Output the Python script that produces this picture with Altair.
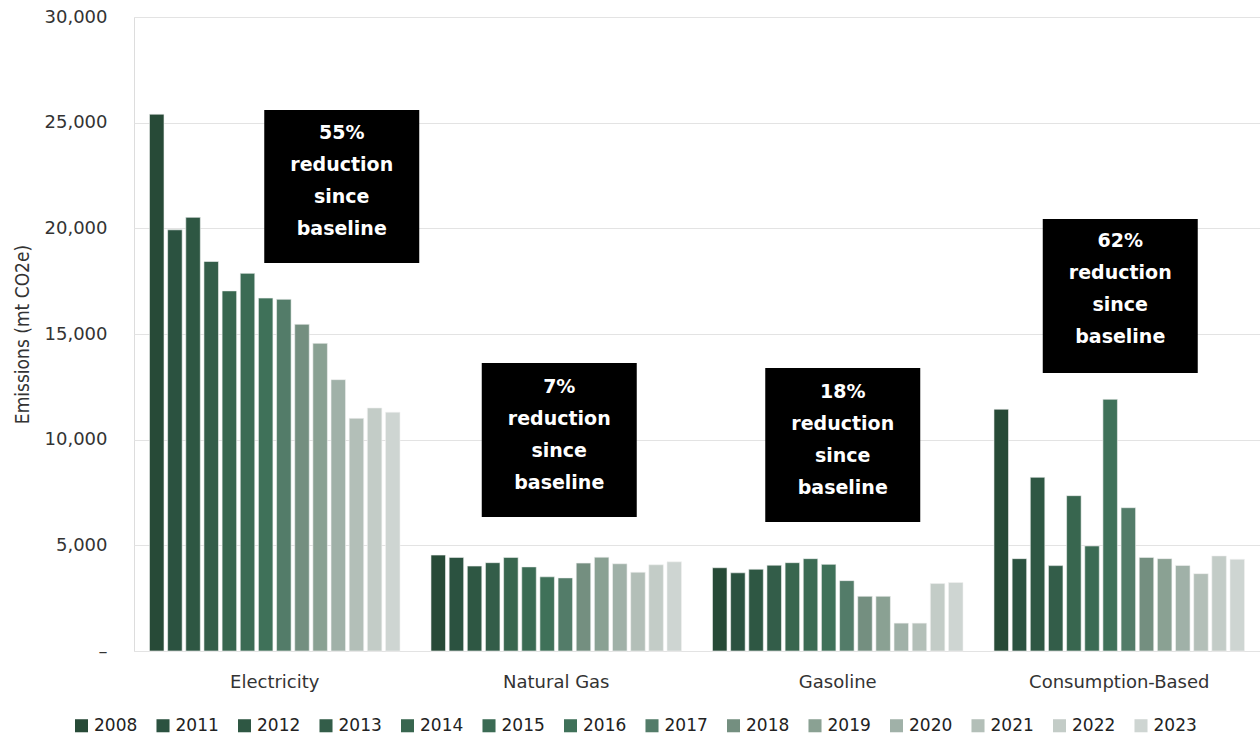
import altair as alt
import pandas as pd

categories = ["Electricity", "Natural Gas", "Gasoline", "Consumption-Based"]
years = ["2008", "2011", "2012", "2013", "2014", "2015", "2016", "2017",
         "2018", "2019", "2020", "2021", "2022", "2023"]
colors = ["#274a37", "#2b5240", "#2e5743", "#335d49", "#38664f", "#3b6b54",
          "#3f7159", "#537c69", "#748f80", "#8aa193", "#a0b1a8", "#b3bfb8",
          "#c3ccc7", "#ced5d2"]

electricity = [25400, 19930, 20520, 18430, 17040, 17870, 16700, 16640,
               15460, 14560, 12840, 11010, 11500, 11300]
natural_gas = [4540, 4430, 4020, 4180, 4430, 3980, 3510, 3460,
               4160, 4440, 4130, 3730, 4080, 4220]
gasoline = [3940, 3700, 3870, 4060, 4180, 4370, 4100, 3330,
            2590, 2590, 1320, 1320, 3190, 3240]
consumption = [11440, 4370, 8220, 4040, 7350, 4970, 11910, 6780,
               4430, 4370, 4050, 3660, 4500, 4340]

ann_text = ["55%\nreduction\nsince\nbaseline", "7%\nreduction\nsince\nbaseline",
            "18%\nreduction\nsince\nbaseline", "62%\nreduction\nsince\nbaseline"]
ann_top = [25600, 13630, 13390, 20440]
ann_bottom = [18360, 6340, 6100, 13160]
ann_first = [24510, 12490, 12260, 19400]

series = [electricity, natural_gas, gasoline, consumption]
rows = []
for c, vals in zip(categories, series):
    for y, v in zip(years, vals):
        rows.append({"Category": c, "Year": y, "Value": v})
df = pd.DataFrame(rows)

ann = pd.DataFrame({"Category": categories, "text": ann_text,
                    "top": ann_top, "bottom": ann_bottom, "first": ann_first})

FONT = "DejaVu Sans"

xenc = alt.X("Category:N", sort=categories,
             scale=alt.Scale(paddingInner=0.11, paddingOuter=0.055),
             axis=alt.Axis(title=None, labelFontSize=18, labelColor="#333333",
                           labelFont=FONT, ticks=False, domain=False,
                           labelPadding=22, labelAngle=0, labelLimit=0))

bars = alt.Chart(df).mark_bar(stroke="#f2f2f2", strokeWidth=0.6).encode(
    x=xenc,
    xOffset=alt.XOffset("Year:N", sort=years,
                        scale=alt.Scale(paddingInner=0.2)),
    y=alt.Y("Value:Q", scale=alt.Scale(domain=[0, 30000]),
            axis=alt.Axis(title="Emissions (mt CO2e)", titleFontSize=19,
                          titleFontWeight="normal", titleColor="#333333",
                          titleFont="DejaVu Sans Condensed, Liberation Sans",
                          titlePadding=12,
                          values=[0, 5000, 10000, 15000, 20000, 25000, 30000],
                          labelExpr="datum.value == 0 ? '–' : format(datum.value, ',')",
                          labelFontSize=18, labelColor="#333333", labelFont=FONT,
                          labelPadding=27, ticks=False, domain=False,
                          gridColor="#e3e3e3", gridWidth=1.2)),
    color=alt.Color("Year:N", sort=years,
                    scale=alt.Scale(domain=years, range=colors),
                    legend=alt.Legend(title=None, orient="none", direction="horizontal",
                                      columns=14, legendX=-61, legendY=700,
                                      symbolType="square", symbolSize=170,
                                      symbolStrokeWidth=0, labelFontSize=17,
                                      labelFont=FONT, labelColor="#222222",
                                      columnPadding=16.5, labelOffset=4)),
)

def box_layer(cat_list, dx):
    sub = ann[ann["Category"].isin(cat_list)]
    rect = alt.Chart(sub).mark_bar(color="#000000", width=155, xOffset=dx).encode(
        x=alt.X("Category:N", sort=categories),
        y="top:Q", y2="bottom:Q")
    txt = alt.Chart(sub).mark_text(color="white", fontSize=19, fontWeight="bold",
                                   font=FONT, lineHeight=32, lineBreak="\n",
                                   align="center", baseline="middle",
                                   xOffset=dx).encode(
        x=alt.X("Category:N", sort=categories),
        y="first:Q", text="text:N")
    return rect + txt

chart = alt.layer(
    bars,
    box_layer(["Electricity"], 67),
    box_layer(["Natural Gas"], 3),
    box_layer(["Gasoline"], 5),
    box_layer(["Consumption-Based"], 1),
).properties(
    width=1126, height=634,
    autosize=alt.AutoSizeParams(type="none"),
    padding={"left": 134, "top": 17, "right": 0, "bottom": 88},
).configure_view(stroke=None).configure(background="white")

chart.save("out.html", embed_options={"renderer": "svg", "actions": False})
